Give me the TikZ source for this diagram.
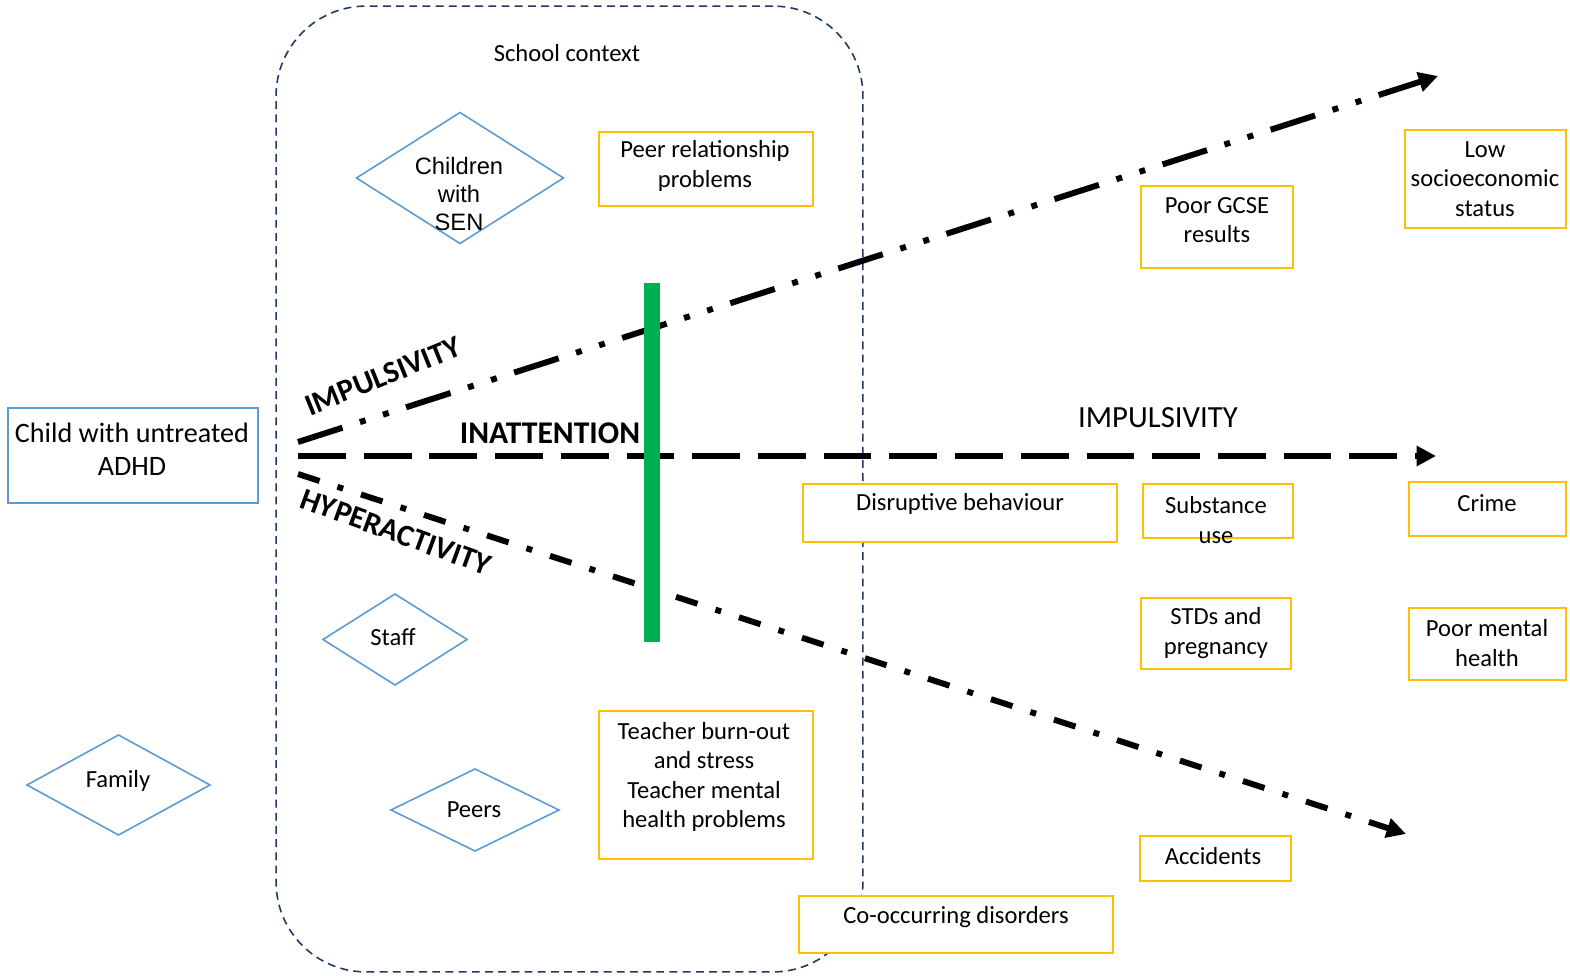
\documentclass[tikz,border=0pt]{standalone}
\usepackage{fontspec}
\setmainfont{Carlito}
\newfontfamily\arialf{Liberation Sans}
\usetikzlibrary{arrows.meta}
\definecolor{boxblue}{HTML}{5B9BD5}
\definecolor{gold}{HTML}{FFC000}
\definecolor{navy}{HTML}{1F3864}
\definecolor{grn}{HTML}{00B050}
\begin{document}
\begin{tikzpicture}[x=0.02cm,y=-0.02cm,
  goldbox/.style={draw=gold,fill=white,line width=1.2pt,inner sep=0pt},
  bluebox/.style={draw=boxblue,fill=white,line width=1.2pt,inner sep=0pt},
  dia/.style={draw=boxblue,line width=0.9pt},
  txt/.style={font=\fontsize{14}{16.7}\selectfont,align=center,inner sep=0pt},
  schoolbox/.style={draw=navy,line width=0.9pt,dash pattern=on 4.5pt off 3pt,rounded corners=1.8cm,inner sep=0pt},
  thickline/.style={line width=3.4pt,-{Triangle[length=11pt,width=11pt]}},
  impline/.style={thickline,dash pattern=on 26.6pt off 10.4pt on 3.4pt off 10.4pt on 3.4pt off 10.4pt},
  inatline/.style={thickline,dash pattern=on 27.2pt off 10.2pt},
  hypline/.style={thickline,dash pattern=on 12.9pt off 10.7pt on 3.4pt off 10.7pt},
  boldlab/.style={font=\bfseries\fontsize{17.5}{20}\selectfont,inner sep=0pt}
]
\useasboundingbox (0,0) rectangle (1570,976);

% school context frame
\node[schoolbox,minimum width=11.74cm,minimum height=19.32cm] (school) at (569.5,489) {};
\node[font=\fontsize{14}{16}\selectfont,inner sep=0pt] (schoollab) at (567,53) {School context};

% diamonds
\draw[dia] (356.5,178) -- (460,112.5) -- (563.5,178) -- (460,243.5) -- cycle;
\node[font=\arialf\fontsize{13.5}{16}\selectfont,align=center,inner sep=0pt] (sen) at (459,194) {Children\\with\\SEN};
\draw[dia] (323,639.5) -- (395,594) -- (467,639.5) -- (395,685) -- cycle;
\node[txt] (staff) at (393,637) {Staff};
\draw[dia] (27,785) -- (118.5,735) -- (210,785) -- (118.5,835) -- cycle;
\node[txt] (family) at (118,781) {Family};
\draw[dia] (391,810) -- (475,769) -- (559,810) -- (475,851) -- cycle;
\node[txt] (peers) at (474,810) {Peers};

% child box
\node[bluebox,minimum width=5cm,minimum height=1.9cm] (adhdbox) at (133,455.5) {};
\node[font=\fontsize{16}{19}\selectfont,align=center,inner sep=0pt] (adhd) at (132,449) {Child\ with untreated\\ADHD};

% arrows
\coordinate (istart) at (298,442);
\coordinate (iend) at (1438,76);
\coordinate (astart) at (298,456);
\coordinate (aend) at (1436,456);
\coordinate (hstart) at (298,474);
\coordinate (hend) at (1406,834);
\draw[impline] (istart) -- (iend);
\draw[inatline] (astart) -- (aend);
\draw[hypline] (hstart) -- (hend);

% green bar
\node[fill=grn,minimum width=0.32cm,minimum height=7.18cm,inner sep=0pt] (bar) at (652,462.5) {};

% labels
\node[boldlab,rotate=22] (implab) at (383,376) {IMPULSIVITY};
\node[boldlab,rotate=-20] (hyplab) at (396,532) {HYPERACTIVITY};
\node[boldlab,font=\bfseries\fontsize{18}{20}\selectfont] (inlab) at (550,433) {INATTENTION};
\node[font=\fontsize{17.5}{20}\selectfont,inner sep=0pt] (implab2) at (1158,418) {IMPULSIVITY};

% gold boxes
\node[goldbox,minimum width=4.28cm,minimum height=1.48cm] (peerbox) at (706,169) {};
\node[txt] (peer) at (705,166) {Peer relationship\\problems};
\node[goldbox,minimum width=4.28cm,minimum height=2.96cm] (teachbox) at (706,785) {};
\node[txt] (teach) at (704,777) {Teacher burn-out\\and stress\\Teacher mental\\health problems};
\node[goldbox,minimum width=6.28cm,minimum height=1.16cm] (disbox) at (960,513) {};
\node[txt] (dis) at (960,504) {Disruptive behaviour};
\node[goldbox,minimum width=3.0cm,minimum height=1.08cm] (subbox) at (1218,511) {};
\node[txt] (sub) at (1216,520) {Substance\\use};
\node[goldbox,minimum width=3.0cm,minimum height=1.42cm] (stdbox) at (1216,633.5) {};
\node[txt] (std) at (1216,633) {STDs and\\pregnancy};
\node[goldbox,minimum width=3.04cm,minimum height=1.64cm] (gcsebox) at (1217,227) {};
\node[txt] (gcse) at (1217,220) {Poor GCSE\\results};
\node[goldbox,minimum width=3.22cm,minimum height=1.96cm] (sesbox) at (1485.5,179) {};
\node[txt] (ses) at (1485,179) {Low\\socioeconomic\\status};
\node[goldbox,minimum width=3.14cm,minimum height=1.08cm] (crimebox) at (1487.5,509) {};
\node[txt] (crime) at (1487,503) {Crime};
\node[goldbox,minimum width=3.14cm,minimum height=1.44cm] (mhbox) at (1487.5,644) {};
\node[txt] (mh) at (1487,643) {Poor mental\\health};
\node[goldbox,minimum width=3.02cm,minimum height=0.9cm] (accbox) at (1215.5,858.5) {};
\node[txt] (acc) at (1213,856) {Accidents};
\node[goldbox,minimum width=6.28cm,minimum height=1.14cm] (cobox) at (956,924.5) {};
\node[txt] (co) at (956,917) {Co-occurring disorders};
\end{tikzpicture}
\end{document}
